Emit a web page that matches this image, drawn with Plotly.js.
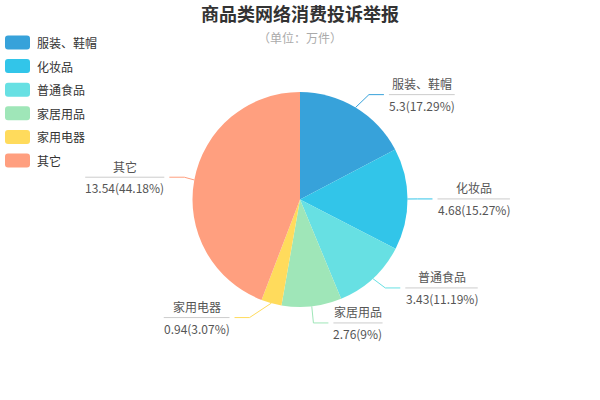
<!DOCTYPE html>
<html><head><meta charset="utf-8">
<script src="https://cdn.plot.ly/plotly-3.0.1.min.js"></script>
<style>html,body{margin:0;padding:0;background:#fff}#chart{width:600px;height:400px}</style>
</head><body><div id="chart"></div>
<script>
// ---- data ----
const categories = ['服装、鞋帽', '化妆品', '普通食品', '家居用品', '家用电器', '其它'];
const values = [5.3, 4.68, 3.43, 2.76, 0.94, 13.54];
const colors = ['#37a2da', '#32c5e9', '#67e0e3', '#9fe6b8', '#ffdb5c', '#ff9f7f'];
const titleText = '商品类网络消费投诉举报';
const subtitleText = '（单位：万件）';

// ---- layout constants ----
const W = 600, H = 400;
const cx = 300, cy = 199.5, R = 107.5;
const L1 = 15, L2 = 15, LD = 5, LH = 35;
const FONT = '"Noto Sans CJK SC", "Noto Sans", sans-serif';
const px = x => x / W;
const py = y => 1 - y / H;

const total = values.reduce((a, b) => a + b, 0);
const percents = values.map(v => +(v / total * 100).toFixed(2));

const cv = document.createElement('canvas').getContext('2d');
cv.font = '12px "Noto Sans CJK SC"';
const tw = s => cv.measureText(s).width;

// label layout (pie outer labels with leader lines)
let cum = 0;
const items = values.map((v, i) => {
  const mid = (cum + v / 2) / total * 2 * Math.PI; cum += v;
  const dx = Math.sin(mid), dy = -Math.cos(mid);
  const dir = dx < 0 ? -1 : 1;
  const x1 = cx + (R + L1) * dx, y1 = cy + (R + L1) * dy;
  const x2 = x1 + dir * L2;
  return { i, dir, x0: cx + R * dx, y0: cy + R * dy, x1, y1, x2,
           x: x2 + dir * LD, y: y1, dist: x1 - x2, height: LH };
});

function adjustSide(list, dir) {
  list.sort((a, b) => a.y - b.y);
  function shiftUp(end, delta) {
    for (let j = end; j >= 0; j--) {
      if (list[j].y - delta < 0) break;
      list[j].y -= delta;
      if (j > 0 && list[j].y > list[j - 1].y + list[j - 1].height) break;
    }
  }
  function shiftDown(start, end, delta) {
    for (let j = start; j < end; j++) {
      if (list[j].y + delta > H) break;
      list[j].y += delta;
      if (j > start && j + 1 < end && list[j + 1].y > list[j].y + list[j].height) {
        shiftUp(j, delta / 2); return;
      }
    }
    shiftUp(end - 1, delta / 2);
  }
  let lastY = 0;
  for (let i = 0; i < list.length; i++) {
    const d = list[i].y - lastY;
    if (d < 0) shiftDown(i, list.length, -d);
    lastY = list[i].y + list[i].height;
  }
  const up = list.filter(l => l.y < cy), down = list.filter(l => l.y >= cy);
  function changeX(lst, isDown) {
    let last = isDown ? Number.MAX_VALUE : 0;
    lst.forEach(l => {
      const dY = Math.abs(l.y - cy);
      let dX = dY < R + L1 ? Math.sqrt((R + L1 + L2) ** 2 - dY * dY) : Math.abs(l.x - cx);
      if (isDown && dX >= last) dX = last - 10;
      if (!isDown && dX <= last) dX = last + 10;
      l.x = cx + dX * dir;
      last = dX;
    });
  }
  changeX(up, false);
  changeX(down, true);
}
adjustSide(items.filter(l => l.x >= cx), 1);
adjustSide(items.filter(l => l.x < cx), -1);

const shapes = [], annotations = [];
items.forEach(l => {
  const end = l.x - l.dir * LD;
  const bend = end + l.dist;
  shapes.push({ type: 'path', xref: 'paper', yref: 'paper',
    path: `M ${px(l.x0)} ${py(l.y0)} L ${px(bend)} ${py(l.y)} L ${px(end)} ${py(l.y)}`,
    line: { color: colors[l.i], width: 1 } });
  const name = categories[l.i];
  const val = values[l.i] + '(' + percents[l.i] + '%)';
  const w = Math.max(tw(name), tw(val));
  const left = l.dir > 0 ? l.x : l.x - w;
  const c = left + w / 2;
  shapes.push({ type: 'line', xref: 'paper', yref: 'paper',
    x0: px(left), x1: px(left + w), y0: py(l.y), y1: py(l.y),
    line: { color: '#cccccc', width: 1 } });
  annotations.push({ xref: 'paper', yref: 'paper', x: px(c), y: py(l.y - 11), text: name,
    showarrow: false, xanchor: 'center', yanchor: 'middle',
    font: { family: FONT, size: 12, color: '#555' } });
  annotations.push({ xref: 'paper', yref: 'paper', x: px(c), y: py(l.y + 10.5), text: val,
    showarrow: false, xanchor: 'center', yanchor: 'middle',
    font: { family: FONT, size: 12, color: '#555' } });
});

// custom legend (rounded rectangles)
const lgX = 5, lgW = 25, lgH = 14, lgY0 = 42.5, lgStep = 23.6, rr = 3;
categories.forEach((name, i) => {
  const yc = lgY0 + i * lgStep;
  const x0 = lgX, x1 = lgX + lgW, y0 = yc - lgH / 2, y1 = yc + lgH / 2;
  const P = (x, y) => `${px(x)} ${py(y)}`;
  const path = `M ${P(x0 + rr, y0)} L ${P(x1 - rr, y0)} Q ${P(x1, y0)} ${P(x1, y0 + rr)} ` +
    `L ${P(x1, y1 - rr)} Q ${P(x1, y1)} ${P(x1 - rr, y1)} L ${P(x0 + rr, y1)} ` +
    `Q ${P(x0, y1)} ${P(x0, y1 - rr)} L ${P(x0, y0 + rr)} Q ${P(x0, y0)} ${P(x0 + rr, y0)} Z`;
  shapes.push({ type: 'path', xref: 'paper', yref: 'paper', path,
    fillcolor: colors[i], line: { width: 0 } });
  annotations.push({ xref: 'paper', yref: 'paper', x: px(lgX + lgW + 5), y: py(yc), text: name,
    showarrow: false, xanchor: 'left', yanchor: 'middle',
    font: { family: FONT, size: 12, color: '#333' } });
});

annotations.push({ xref: 'paper', yref: 'paper', x: 0.5, y: py(38), text: subtitleText,
  showarrow: false, xanchor: 'center', yanchor: 'middle',
  font: { family: FONT, size: 12, color: '#aaa' } });

const trace = {
  type: 'pie', labels: categories, values: values,
  marker: { colors: colors, line: { width: 0 } },
  sort: false, direction: 'clockwise', rotation: 0,
  textinfo: 'none', hoverinfo: 'label+value+percent',
  domain: { x: [px(cx - R), px(cx + R)], y: [py(cy + R), py(cy - R)] }
};

const layout = {
  width: W, height: H, margin: { l: 0, r: 0, t: 0, b: 0 },
  paper_bgcolor: '#fff', showlegend: false,
  title: { text: titleText, x: 0.5, xanchor: 'center', y: py(15), yanchor: 'middle',
    font: { family: FONT, size: 18, color: '#333', weight: 'bold' } },
  shapes, annotations
};
Plotly.newPlot('chart', [trace], layout, { displayModeBar: false, staticPlot: true });
</script></body></html>
